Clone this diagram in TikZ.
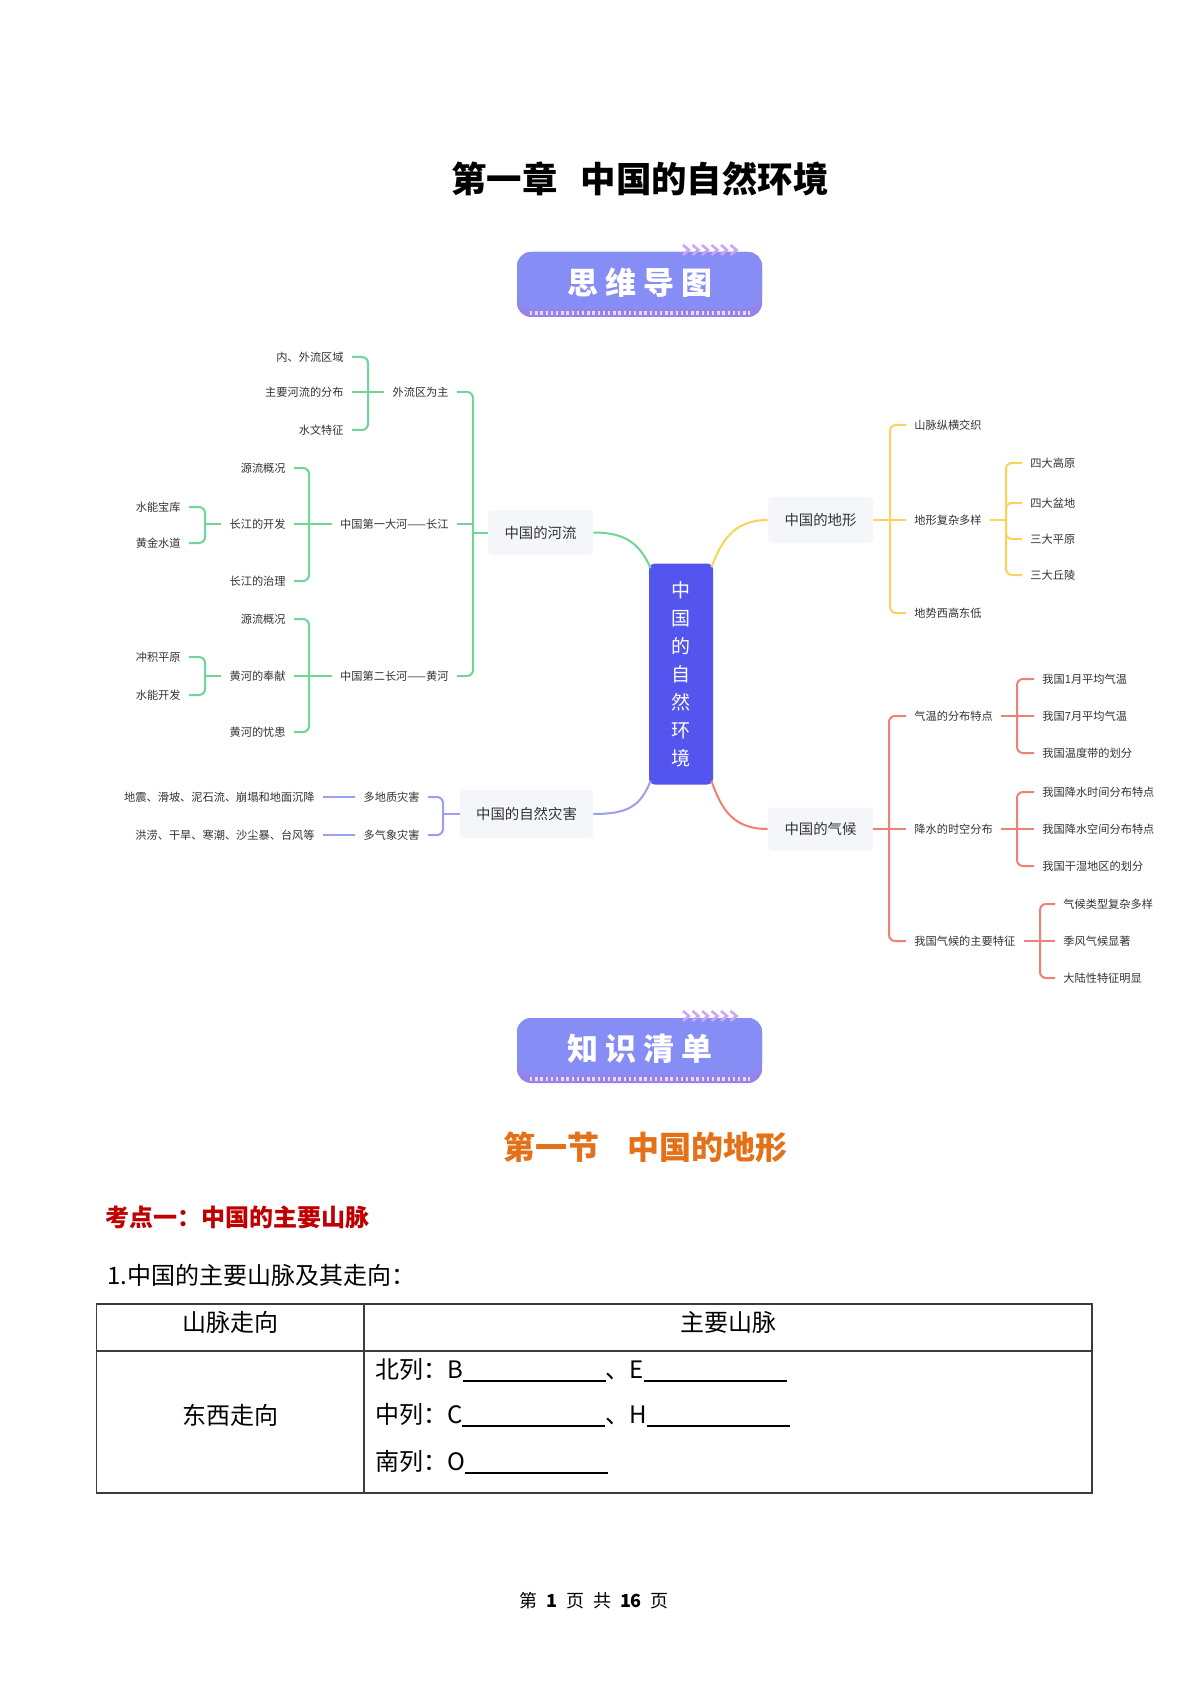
\documentclass[tikz,border=0pt]{standalone}
\usepackage{fontspec}
\setmainfont{Noto Sans CJK SC}
\usetikzlibrary{calc}
\definecolor{txt}{RGB}{51,51,51}
\definecolor{nodefill}{RGB}{245,246,250}
\definecolor{cgreen}{RGB}{110,214,150}
\definecolor{cyellow}{RGB}{250,212,90}
\definecolor{cred}{RGB}{240,128,118}
\definecolor{cpurple}{RGB}{158,158,240}
\definecolor{ccenter}{RGB}{84,84,238}
\definecolor{banmain}{RGB}{134,142,245}
\definecolor{banbot}{RGB}{150,130,235}
\definecolor{banstripe}{RGB}{240,215,250}
\definecolor{chev}{RGB}{205,165,245}
\definecolor{orangec}{RGB}{228,112,24}
\definecolor{kred}{RGB}{192,0,0}
\definecolor{tline}{RGB}{60,60,60}
\newcommand{\mybanner}[3]{%
  \fill[banbot, rounded corners=7pt] (517,#1) rectangle (762,#1+65);
  \fill[banmain, rounded corners=7pt] (517,#1) rectangle (762,#1+57);
  \draw[banstripe, line width=1.6pt, dash pattern=on 1.2pt off 1.4pt] (530,#1+61) -- (750,#1+61);
  \foreach \i in {0,...,5}{\draw[chev, line width=1.3pt] (683+9.5*\i,#1-7) -- (689+9.5*\i,#1-2) -- (683+9.5*\i,#1+3);}
  \node[font=\fontsize{15.5pt}{15.5pt}\selectfont\bfseries, text=white] (#2) at (640,#1+31) {#3};
}
\begin{document}
\begin{tikzpicture}[x=0.5pt,y=-0.5pt,
  mm/.style={font=\fontsize{5.6pt}{6pt}\selectfont, text=txt, inner xsep=4pt, inner ysep=1pt},
  topic/.style={font=\fontsize{7.2pt}{8pt}\selectfont, text=txt, fill=nodefill, rounded corners=2pt, inner sep=0pt},
  gl/.style={draw=cgreen, line width=1pt, rounded corners=3pt},
  yl/.style={draw=cyellow, line width=1pt, rounded corners=3pt},
  rl/.style={draw=cred, line width=1pt, rounded corners=3pt},
  pl/.style={draw=cpurple, line width=1pt, rounded corners=3pt},
  tx/.style={font=\fontsize{12pt}{12pt}\selectfont, text=black},
  tl/.style={draw=tline, line width=0.8pt}]
\fill[white] (0,0) rectangle (1190,1684);
\useasboundingbox (0,0) rectangle (1190,1684);

% title
\node[font=\fontsize{17.7pt}{20pt}\selectfont\bfseries] (title) at (640,179) {第一章\hspace{11.5pt}中国的自然环境};

% banner 1
\mybanner{252}{ban1}{思\hspace{3.5pt}维\hspace{3.5pt}导\hspace{3.5pt}图}

% central node
\node[fill=ccenter, rounded corners=3pt, minimum width=32pt, minimum height=110.5pt, text=white,
      font=\fontsize{9.5pt}{14pt}\selectfont, align=center, inner sep=0pt] (c) at (681,674) {中\\国\\的\\自\\然\\环\\境};

% topics
\node[topic, minimum width=52.5pt, minimum height=22.5pt] (river) at (540.5,532.5) {中国的河流};
\node[topic, minimum width=66.5pt, minimum height=24pt] (dis) at (526.5,814) {中国的自然灾害};
\node[topic, minimum width=52.5pt, minimum height=23pt] (terr) at (820.5,520) {中国的地形};
\node[topic, minimum width=52.5pt, minimum height=21.5pt] (clim) at (820.5,829) {中国的气候};

% curves
\draw[cgreen, line width=1pt] (river.east) .. controls +(35,0) and +(-10,-22) .. ([shift={(2,5)}]c.north west);
\draw[cyellow, line width=1pt] ([shift={(-2,4)}]c.north east) .. controls +(10,-25) and +(-35,0) .. (terr.west);
\draw[cpurple, line width=1pt] ([shift={(2,-4)}]c.south west) .. controls +(-10,25) and +(35,0) .. (dis.east);
\draw[cred, line width=1pt] ([shift={(-2,-4)}]c.south east) .. controls +(10,28) and +(-35,0) .. (clim.west);

% ---- river tree (green, left)
\node[mm, anchor=east] (a1) at (457,392) {外流区为主};
\node[mm, anchor=east] (a2) at (457,524) {中国第一大河——长江};
\node[mm, anchor=east] (a3) at (457,676) {中国第二长河——黄河};
\coordinate (j0) at (473,532.5);
\draw[gl] (river.west) -- (j0);
\draw[gl] (j0) |- (a1.east);
\draw[gl, sharp corners] (j0) |- (a2.east);
\draw[gl] (j0) |- (a3.east);

\node[mm, anchor=east] (b1) at (352,357) {内、外流区域};
\node[mm, anchor=east] (b2) at (352,392) {主要河流的分布};
\node[mm, anchor=east] (b3) at (352,430) {水文特征};
\coordinate (j1) at (368,392);
\draw[gl] (a1.west) -- (b2.east);
\draw[gl] (j1) |- (b1.east);
\draw[gl] (j1) |- (b3.east);

\node[mm, anchor=east] (c1) at (294,468) {源流概况};
\node[mm, anchor=east] (c2) at (294,524) {长江的开发};
\node[mm, anchor=east] (c3) at (294,581) {长江的治理};
\coordinate (j2) at (309,524);
\draw[gl] (a2.west) -- (c2.east);
\draw[gl] (j2) |- (c1.east);
\draw[gl] (j2) |- (c3.east);

\node[mm, anchor=east] (d1) at (189,507) {水能宝库};
\node[mm, anchor=east] (d2) at (189,543) {黄金水道};
\coordinate (j3) at (205,524);
\draw[gl] (c2.west) -- (j3);
\draw[gl] (j3) |- (d1.east);
\draw[gl] (j3) |- (d2.east);

\node[mm, anchor=east] (e1) at (294,619) {源流概况};
\node[mm, anchor=east] (e2) at (294,676) {黄河的奉献};
\node[mm, anchor=east] (e3) at (294,732) {黄河的忧患};
\coordinate (j4) at (309,676);
\draw[gl] (a3.west) -- (e2.east);
\draw[gl] (j4) |- (e1.east);
\draw[gl] (j4) |- (e3.east);

\node[mm, anchor=east] (f1) at (189,657) {冲积平原};
\node[mm, anchor=east] (f2) at (189,695) {水能开发};
\coordinate (j5) at (205,676);
\draw[gl] (e2.west) -- (j5);
\draw[gl] (j5) |- (f1.east);
\draw[gl] (j5) |- (f2.east);

% ---- disaster tree (purple, left)
\node[mm, anchor=east] (p1) at (428,797) {多地质灾害};
\node[mm, anchor=east] (p2) at (428,835) {多气象灾害};
\coordinate (jp) at (443,814);
\draw[pl] (dis.west) -- (jp);
\draw[pl] (jp) |- (p1.east);
\draw[pl] (jp) |- (p2.east);
\node[mm, anchor=east] (q1) at (323,797) {地震、滑坡、泥石流、崩塌和地面沉降};
\node[mm, anchor=east] (q2) at (323,835) {洪涝、干旱、寒潮、沙尘暴、台风等};
\draw[pl] (p1.west) -- (q1.east);
\draw[pl] (p2.west) -- (q2.east);

% ---- terrain tree (yellow, right)
\node[mm, anchor=west] (t1) at (906,425) {山脉纵横交织};
\node[mm, anchor=west] (t2) at (906,520) {地形复杂多样};
\node[mm, anchor=west] (t3) at (906,613) {地势西高东低};
\coordinate (jt) at (890,520);
\draw[yl] (terr.east) -- (t2.west);
\draw[yl] (jt) |- (t1.west);
\draw[yl] (jt) |- (t3.west);

\node[mm, anchor=west] (u1) at (1022,463) {四大高原};
\node[mm, anchor=west] (u2) at (1022,503) {四大盆地};
\node[mm, anchor=west] (u3) at (1022,539) {三大平原};
\node[mm, anchor=west] (u4) at (1022,575) {三大丘陵};
\coordinate (ju) at (1006,520);
\draw[yl] (t2.east) -- (ju);
\draw[yl] (ju) |- (u1.west);
\draw[yl] (ju) |- (u2.west);
\draw[yl] (ju) |- (u3.west);
\draw[yl] (ju) |- (u4.west);

% ---- climate tree (red, right)
\node[mm, anchor=west] (r1) at (906,716) {气温的分布特点};
\node[mm, anchor=west] (r2) at (906,829) {降水的时空分布};
\node[mm, anchor=west] (r3) at (906,941) {我国气候的主要特征};
\coordinate (jr) at (889,829);
\draw[rl] (clim.east) -- (r2.west);
\draw[rl] (jr) |- (r1.west);
\draw[rl] (jr) |- (r3.west);

\node[mm, anchor=west] (s1) at (1034,679) {我国1月平均气温};
\node[mm, anchor=west] (s2) at (1034,716) {我国7月平均气温};
\node[mm, anchor=west] (s3) at (1034,753) {我国温度带的划分};
\coordinate (js1) at (1017,716);
\draw[rl] (r1.east) -- (s2.west);
\draw[rl] (js1) |- (s1.west);
\draw[rl] (js1) |- (s3.west);

\node[mm, anchor=west] (s4) at (1034,792) {我国降水时间分布特点};
\node[mm, anchor=west] (s5) at (1034,829) {我国降水空间分布特点};
\node[mm, anchor=west] (s6) at (1034,866) {我国干湿地区的划分};
\coordinate (js2) at (1017,829);
\draw[rl] (r2.east) -- (s5.west);
\draw[rl] (js2) |- (s4.west);
\draw[rl] (js2) |- (s6.west);

\node[mm, anchor=west] (s7) at (1055,904) {气候类型复杂多样};
\node[mm, anchor=west] (s8) at (1055,941) {季风气候显著};
\node[mm, anchor=west] (s9) at (1055,978) {大陆性特征明显};
\coordinate (js3) at (1040,941);
\draw[rl] (r3.east) -- (s8.west);
\draw[rl] (js3) |- (s7.west);
\draw[rl] (js3) |- (s9.west);

% banner 2
\mybanner{1018}{ban2}{知\hspace{3.5pt}识\hspace{3.5pt}清\hspace{3.5pt}单}

% section heading
\node[text=orangec, font=\fontsize{16pt}{16pt}\selectfont\bfseries] (sec) at (645,1147) {第一节\hspace{14pt}中国的地形};

% key point
\node[anchor=west, text=kred, font=\fontsize{12pt}{12pt}\selectfont\bfseries] (kd) at (98,1217) {考点一：中国的主要山脉};
\node[anchor=west, tx] (q) at (100,1275) {1.中国的主要山脉及其走向：};

% table
\draw[tl] (96.5,1304) rectangle (1092,1493);
\draw[tl] (96.5,1351) -- (1092,1351);
\draw[tl] (364,1304) -- (364,1493);
\node[tx] (h1) at (230,1322) {山脉走向};
\node[tx] (h2) at (728,1322) {主要山脉};
\node[tx] (dx) at (230,1415) {东西走向};
\node[tx, anchor=west] (n1) at (368,1370) {北列：B\rule[-1.5pt]{71.5pt}{0.6pt}、E\rule[-1.5pt]{71.5pt}{0.6pt}};
\node[tx, anchor=west] (n2) at (368,1415) {中列：C\rule[-1.5pt]{71.5pt}{0.6pt}、H\rule[-1.5pt]{71.5pt}{0.6pt}};
\node[tx, anchor=west] (n3) at (368,1462) {南列：O\rule[-1.5pt]{71.5pt}{0.6pt}};

% footer
\node[font=\fontsize{9pt}{9pt}\selectfont] (ft) at (594,1601) {第\hspace{4.5pt}\textbf{1}\hspace{4.5pt}页\hspace{4.5pt}共\hspace{4.5pt}\textbf{16}\hspace{4.5pt}页};
\end{tikzpicture}
\end{document}
